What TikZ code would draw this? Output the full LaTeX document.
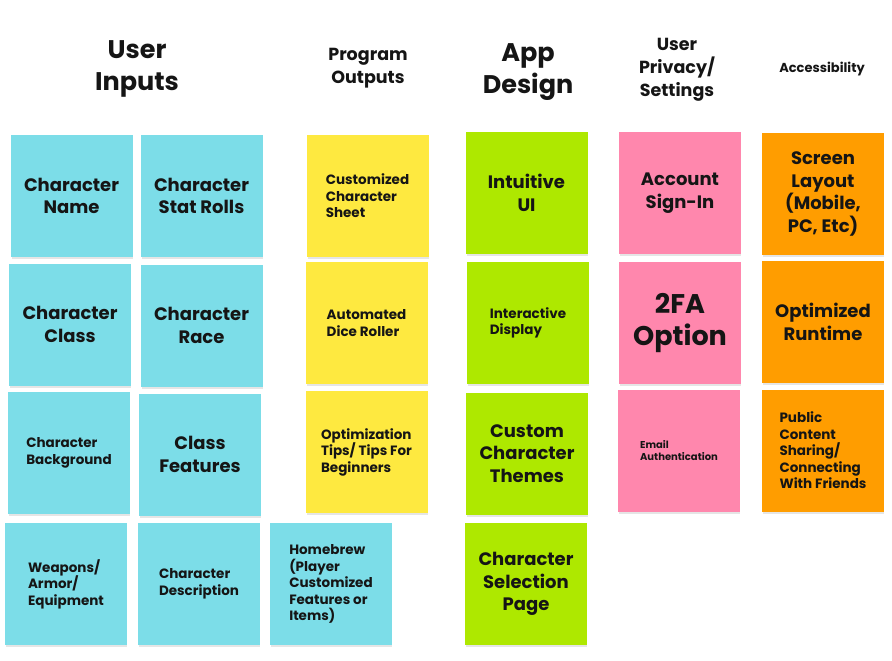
\documentclass[tikz,border=0pt]{standalone}
\usepackage{fontspec}
\setmainfont{Poppins}
\definecolor{noteblue}{HTML}{7CDDE8}
\definecolor{noteyellow}{HTML}{FEE940}
\definecolor{notegreen}{HTML}{AEE800}
\definecolor{notepink}{HTML}{FF87AD}
\definecolor{noteorange}{HTML}{FF9D00}
\definecolor{ink}{HTML}{151515}
\tikzset{
  note/.style={minimum width=122pt, minimum height=122pt, inner sep=0pt,
    text=ink, font=\bfseries\fontsize{18}{22.5}\selectfont, align=center},
  small/.style={font=\bfseries\fontsize{13.5}{16.5}\selectfont, align=left},
  tiny/.style={font=\bfseries\fontsize{10}{12.5}\selectfont, align=left},
  huge/.style={font=\bfseries\fontsize{27}{32}\selectfont},
  blue/.style={note, fill=noteblue},
  yellow/.style={note, fill=noteyellow},
  green/.style={note, fill=notegreen},
  pink/.style={note, fill=notepink},
  orange/.style={note, fill=noteorange},
  heading/.style={text=ink, align=center, inner sep=0pt},
  bighead/.style={heading, font=\bfseries\fontsize{25.5}{32.5}\selectfont},
  midhead/.style={heading, font=\bfseries\fontsize{17.5}{23}\selectfont},
  smallhead/.style={heading, font=\bfseries\fontsize{13}{16}\selectfont},
}
% sticky note with a soft shadow beneath it
\newcommand{\sticky}[4]{%
  \fill[black, opacity=0.10] ($(#2)+(-60,-59)$) rectangle ($(#2)+(61,63)$);
  \node[#1] (#3) at (#2) {#4};}
\usetikzlibrary{calc}
\begin{document}
\begin{tikzpicture}[x=1pt, y=-1pt]
\fill[white] (0,0) rectangle (892,661);
\useasboundingbox (0,0) rectangle (892,661);

% column headings
\node[bighead] (hInputs) at (137,69) {User\\Inputs};
\node[midhead] (hOutputs) at (368,68) {Program\\Outputs};
\node[bighead] (hDesign) at (528,72) {App\\Design};
\node[midhead] (hPrivacy) at (677,70) {User\\Privacy/\\Settings};
\node[smallhead] (hAccess) at (822,69) {Accessibility};

% user inputs
\sticky{blue}{71.5,196}{name}{Character\\Name}
\sticky{blue}{201.5,196}{stats}{Character\\Stat Rolls}
\sticky{blue}{70,324.5}{cls}{Character\\Class}
\sticky{blue}{201.5,325.5}{race}{Character\\Race}
\sticky{blue,small}{69,453}{bg}{Character\\Background}
\sticky{blue}{200,454.5}{feat}{Class\\Features}
\sticky{blue,small}{66,584}{gear}{Weapons/\\Armor/\\Equipment}
\sticky{blue,small}{199,584}{desc}{Character\\Description}
\sticky{blue,small}{331,584}{homebrew}{Homebrew\\(Player\\Customized\\Features or\\Items)}

% program outputs
\sticky{yellow,small}{367.5,196}{sheet}{Customized\\Character\\Sheet}
\sticky{yellow,small}{366.5,323}{dice}{Automated\\Dice Roller}
\sticky{yellow,small}{366.5,452}{tips}{Optimization\\Tips/ Tips For\\Beginners}

% app design
\sticky{green}{526.5,193}{ui}{Intuitive\\UI}
\sticky{green,small}{528,323}{display}{Interactive\\Display}
\sticky{green}{527,453.5}{themes}{Custom\\Character\\Themes}
\sticky{green}{526,584}{select}{Character\\Selection\\Page}

% user privacy / settings
\sticky{pink}{680,193}{signin}{Account\\Sign-In}
\sticky{pink,huge}{680,323}{tfa}{2FA\\Option}
\sticky{pink,tiny}{679,450.5}{email}{Email\\Authentication}

% accessibility
\sticky{orange}{823,194}{layout}{Screen\\Layout\\(Mobile,\\PC, Etc)}
\sticky{orange}{823,322}{runtime}{Optimized\\Runtime}
\sticky{orange,small}{823,450.5}{sharing}{Public\\Content\\Sharing/\\Connecting\\With Friends}
\end{tikzpicture}
\end{document}
